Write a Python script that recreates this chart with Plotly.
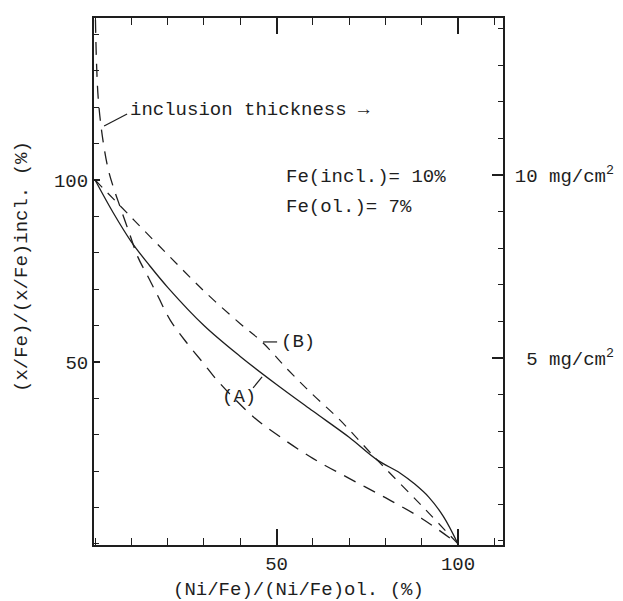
import plotly.graph_objects as go

# ---- data ----
# solid curve
solid_x = [0, 5, 10, 15, 20, 30, 40, 50, 60, 70, 77.7, 84, 88, 92, 96, 100]
solid_y = [100, 91, 83, 76.5, 70.5, 60, 51.5, 43.8, 36.5, 29.3, 23.1, 19.5, 16.5, 12.8, 7.5, 0]

# dashed curve (A), its steep upper part marks the inclusion thickness
a_x = [0.1, 0.4, 0.9, 2.0, 3.6, 5.2, 6.9, 9.6, 11.8, 14.6, 17.4, 20.7, 25.3, 29.8,
       33.6, 43.5, 51, 60, 70, 80, 90, 100]
a_y = [144, 132, 122, 112, 103, 97.5, 92.6, 84.9, 78.8, 73.4, 67.9, 61.5, 55.2, 49.7,
       45, 35, 29.4, 23.5, 18, 12.7, 7.0, 0]

# dashed curve (B)
b_x = [0, 10, 20, 30, 40, 46, 53, 60, 67, 77.7, 90, 100]
b_y = [100, 89.7, 79.5, 69.5, 60.5, 55.5, 48, 41, 34.5, 23.1, 10.5, 0]

x_ticks = [50, 100]
y_ticks = [50, 100]
thick_ticks = [5, 10]
thick_labels = ["\u00a05 mg/cm<sup>2</sup>", "10 mg/cm<sup>2</sup>"]

FONT = "Courier New, Liberation Mono, monospace"
INK = "#1e1e1e"

# pixel -> data helpers for annotation placement (page pixels)
def X(px):
    return (px - 95) / 3.629

def Y(py):
    return (544 - py) / 3.64

fig = go.Figure()
fig.add_trace(go.Scatter(x=solid_x, y=solid_y, mode="lines", line_shape="spline",
                         line=dict(color=INK, width=1.3), showlegend=False))
fig.add_trace(go.Scatter(x=a_x, y=a_y, mode="lines", line_shape="spline",
                         line=dict(color=INK, width=1.3, dash="13px,9px"), showlegend=False))
fig.add_trace(go.Scatter(x=b_x, y=b_y, mode="lines", line_shape="spline",
                         line=dict(color=INK, width=1.2, dash="10px,8px"), showlegend=False))
# invisible trace to activate right axis
fig.add_trace(go.Scatter(x=[None], y=[None], yaxis="y2", showlegend=False))

# page body has an 8px default margin, so the figure is 8px smaller and margins shifted
fig.update_layout(
    width=615, height=593,
    margin=dict(l=86, r=120, t=10, b=56),
    paper_bgcolor="white", plot_bgcolor="white",
    font=dict(family=FONT, size=19, color=INK),
    xaxis=dict(range=[-0.3, 112.4], tickvals=x_ticks, ticks="inside", ticklen=16,
               tickwidth=1.5, tickcolor=INK, showline=True, linecolor=INK, linewidth=2,
               mirror="ticks", showgrid=False, zeroline=False, automargin=False,
               minor=dict(dtick=10, tick0=0, ticks="inside", ticklen=7, tickwidth=1.3,
                          tickcolor=INK, showgrid=False),
               tickfont=dict(size=19)),
    yaxis=dict(range=[-0.3, 144.5], tickvals=y_ticks, ticks="inside", ticklen=6,
               tickwidth=1.5, tickcolor=INK, showline=True, linecolor=INK, linewidth=2,
               showgrid=False, zeroline=False, automargin=False,
               minor=dict(dtick=10, tick0=0, ticks="inside", ticklen=5, tickwidth=1.3,
                          tickcolor=INK, showgrid=False),
               tickfont=dict(size=19)),
    yaxis2=dict(overlaying="y", side="right", range=[-0.11, 14.29],
                tickvals=thick_ticks, ticktext=thick_labels, ticks="inside", ticklen=11,
                tickwidth=1.5, tickcolor=INK, showline=True, linecolor=INK, linewidth=2,
                showgrid=False, zeroline=False, ticklabelstandoff=6, automargin=False,
                minor=dict(dtick=1, tick0=0, ticks="inside", ticklen=5, tickwidth=1.3,
                           tickcolor=INK, showgrid=False),
                tickfont=dict(size=19)),
)

ann = [
    dict(x=X(128), y=Y(110), text="inclusion thickness \u2192", xanchor="left"),
    dict(x=X(284), y=Y(177), text="Fe(incl.)= 10%", xanchor="left"),
    dict(x=X(284), y=Y(207), text="Fe(ol.)= 7%", xanchor="left"),
    dict(x=X(279), y=Y(342), text="(B)", xanchor="left"),
    dict(x=X(220), y=Y(397), text="(A)", xanchor="left"),
]
for a in ann:
    fig.add_annotation(xref="x", yref="y", showarrow=False, yanchor="middle",
                       font=dict(family=FONT, size=19, color=INK), **a)

# axis titles
fig.add_annotation(xref="paper", yref="paper", x=0.5, y=0.0, yshift=-45,
                   text="(Ni/Fe)/(Ni/Fe)ol. (%)", showarrow=False,
                   xanchor="center", yanchor="middle",
                   font=dict(family=FONT, size=19, color=INK))
fig.add_annotation(xref="paper", yref="paper", x=0, xshift=-72, y=(545 - 267) / 527,
                   text="(x/Fe)/(x/Fe)incl. (%)", showarrow=False, textangle=-90,
                   xanchor="center", yanchor="middle",
                   font=dict(family=FONT, size=19, color=INK))

# leader lines
for (x0, y0, x1, y1) in [(104, 126, 127, 114), (263, 342, 277, 342), (253, 388, 262, 377)]:
    fig.add_shape(type="line", xref="x", yref="y", x0=X(x0), y0=Y(y0), x1=X(x1), y1=Y(y1),
                  line=dict(color=INK, width=1.2))

fig.write_html("out.html")
